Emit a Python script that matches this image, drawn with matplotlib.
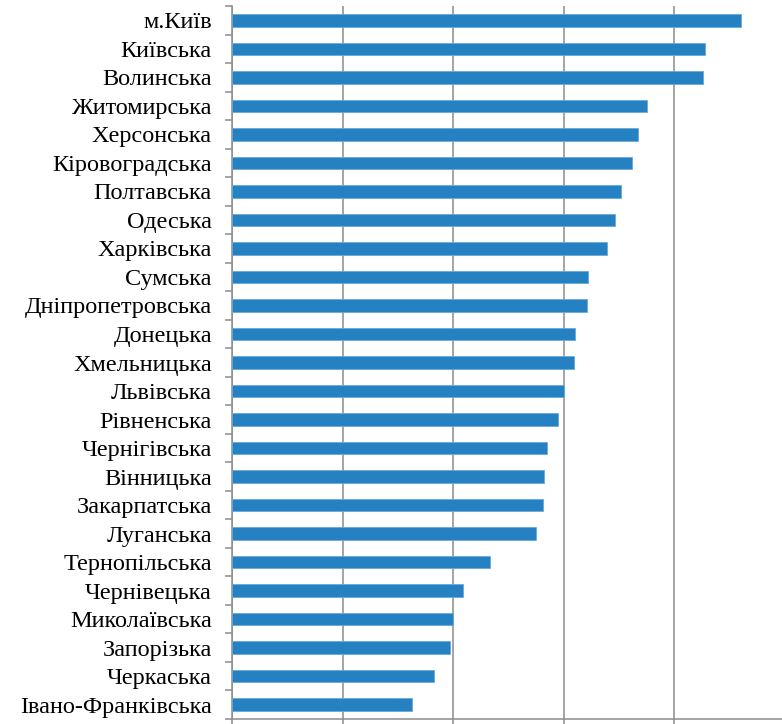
import numpy as np
import matplotlib.pyplot as plt

regions = ['м.Київ', 'Київська', 'Волинська', 'Житомирська', 'Херсонська',
           'Кіровоградська', 'Полтавська', 'Одеська', 'Харківська', 'Сумська',
           'Дніпропетровська', 'Донецька', 'Хмельницька', 'Львівська', 'Рівненська',
           'Чернігівська', 'Вінницька', 'Закарпатська', 'Луганська', 'Тернопільська',
           'Чернівецька', 'Миколаївська', 'Запорізька', 'Черкаська', 'Івано-Франківська']
values = [46.0, 42.8, 42.6, 37.5, 36.7,
          36.2, 35.2, 34.6, 33.9, 32.2,
          32.1, 31.0, 30.9, 30.0, 29.5,
          28.5, 28.2, 28.1, 27.5, 23.3,
          20.9, 20.0, 19.7, 18.3, 16.3]
x_ticks = [0, 10, 20, 30, 40, 50]

plt.rcParams['font.family'] = ['Liberation Serif', 'DejaVu Serif']

W, H = 782, 724
fig = plt.figure(figsize=(W / 100, H / 100), dpi=100, facecolor='white')
left, right, top, bottom = 232, 785, 6, 719
ax = fig.add_axes([left / W, 1 - bottom / H, (right - left) / W, (bottom - top) / H])

n = len(regions)
pos = np.arange(n)
ax.barh(pos, values, height=0.44, color='#2681C3', edgecolor='#6AA9DA', linewidth=0.6, zorder=3)

ax.set_ylim(n - 0.5, -0.5)
ax.set_xlim(0, 50)

ax.set_yticks(pos)
ax.set_yticklabels(regions, fontsize=17.5)
ax.set_yticks(np.arange(n + 1) - 0.5, minor=True)
ax.tick_params(axis='y', which='major', length=0, pad=14.4)
ax.tick_params(axis='y', which='minor', length=5, width=1.1, color='#8C8C8C', direction='out')

ax.set_xticks(x_ticks)
ax.set_xticklabels([])
ax.tick_params(axis='x', length=6, width=1.1, color='#8C8C8C', direction='out')
ax.xaxis.grid(True, color='#8C8C8C', linewidth=1.1)
ax.set_axisbelow(True)

for s in ['top', 'right']:
    ax.spines[s].set_visible(False)
for s in ['left', 'bottom']:
    ax.spines[s].set_color('#8C8C8C')
    ax.spines[s].set_linewidth(1.1)

fig.savefig('out.png', dpi=100, facecolor='white')
